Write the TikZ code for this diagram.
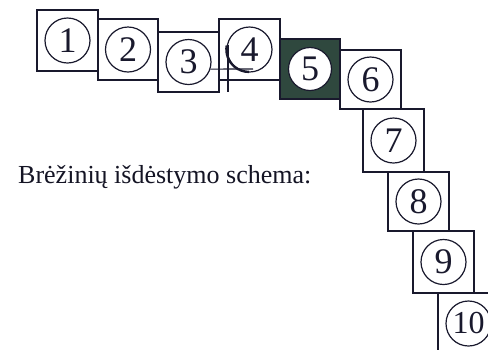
\documentclass[tikz,border=0pt]{standalone}
\usepackage{fontspec}
\setmainfont{Liberation Serif}
\definecolor{sheetfill}{RGB}{47,72,62}
\definecolor{inkc}{RGB}{25,25,45}
\begin{document}
\begin{tikzpicture}[x=1pt,y=-1pt,
  sheet/.style={draw=inkc,line width=1.4pt,rectangle,inner sep=0pt,minimum width=61pt,minimum height=61pt},
  num/.style={draw=inkc,line width=1.2pt,circle,inner sep=0pt,minimum size=45pt,font=\fontsize{36}{36}\selectfont,text=inkc}]
\useasboundingbox (0,0) rectangle (488,349);
\clip (0,0) rectangle (488,349);
\node[sheet] (b1) at (67.5,40.5) {};
\node[sheet,minimum width=60pt] (b2) at (128,49.5) {};
\node[sheet,minimum height=60pt] (b3) at (188.5,62) {};
\node[sheet] (b4) at (249.5,49.5) {};
\node[sheet,fill=sheetfill,minimum width=60pt,minimum height=60pt] (b5) at (310,69) {};
\node[sheet,minimum height=59pt] (b6) at (370.5,79.5) {};
\node[sheet,minimum height=63pt] (b7) at (393.5,140.5) {};
\node[sheet,minimum height=59pt] (b8) at (418.5,201.5) {};
\node[sheet,minimum height=62pt] (b9) at (443.5,262) {};
\node[sheet] (b10) at (468.5,323.5) {};
\node[num] (c1) at (b1) {1};
\node[num] (c2) at (b2) {2};
\node[num] (c3) at (b3) {3};
\node[num] (c4) at (b4) {4};
\node[num,fill=white,minimum size=43pt] (c5) at (b5) {5};
\node[num] (c6) at (b6) {6};
\node[num] (c7) at (b7) {7};
\node[num] (c8) at (b8) {8};
\node[num] (c9) at (b9) {9};
\node[num,font=\fontsize{32}{32}\selectfont] (c10) at (b10) {10};
\coordinate (hend) at (253,69);
\coordinate (vtop) at (228,45);
\coordinate (vbot) at (228,92);
\draw[inkc,line width=1.2pt] (c3.-18) -- (hend);
\draw[inkc,line width=1.2pt] (vtop) -- (vbot);
\draw[inkc,line width=2.4pt] (c4.170) arc[start angle=170,end angle=270,radius=22.5pt];
\node[anchor=base west,inner sep=0pt,font=\fontsize{26}{26}\selectfont,text=inkc!80!black] (title) at (18,183) {Brėžinių išdėstymo schema:};
\end{tikzpicture}
\end{document}
